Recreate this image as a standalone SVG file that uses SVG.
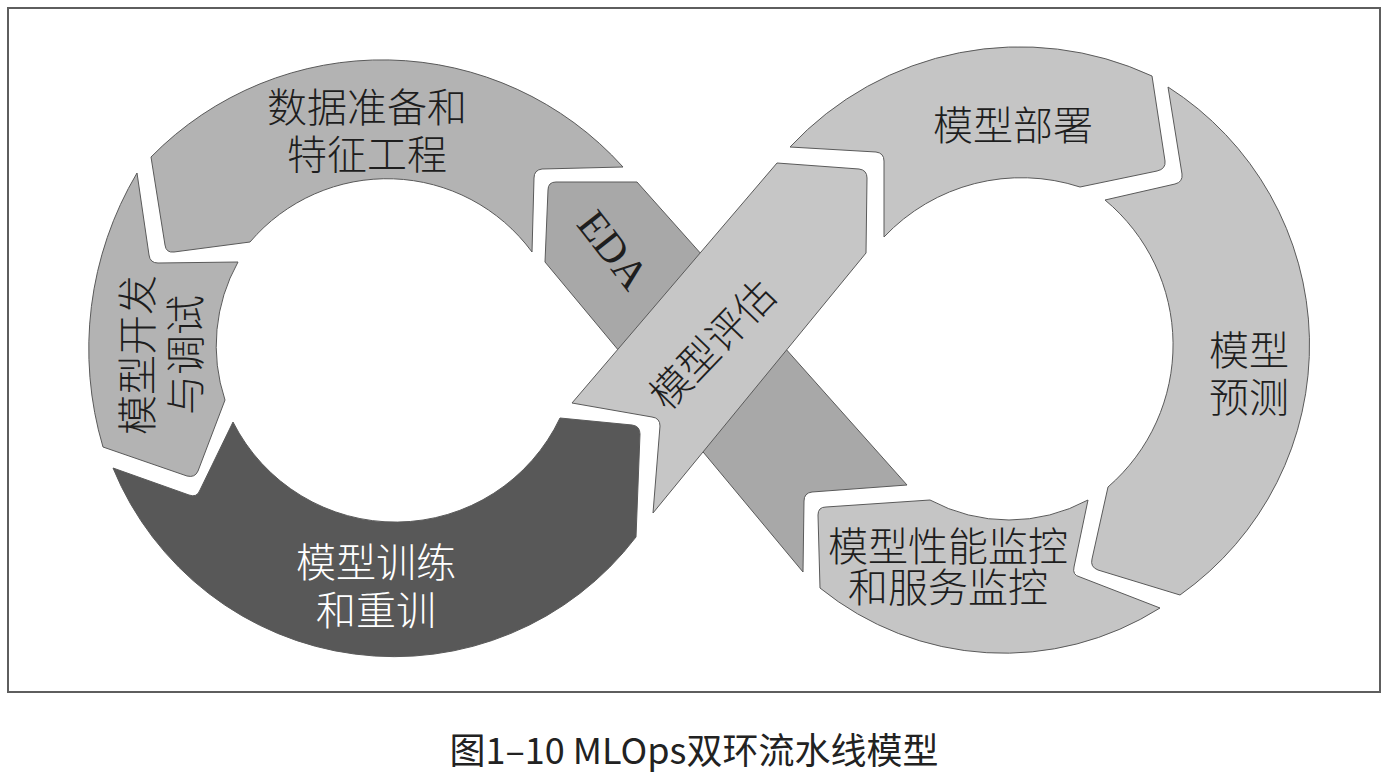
<svg xmlns="http://www.w3.org/2000/svg" width="1392" height="774" viewBox="0 0 1392 774">
<style>
.seg{stroke:#5a5a5a;stroke-width:1;stroke-linejoin:round}
.l{fill:#b3b3b3}
.r{fill:#c5c5c5}
.eda{fill:#a8a8a8}
.rib{fill:#c6c6c6}
.dark{fill:#585858}
.t{font-family:"Noto Sans CJK SC","Noto Sans",sans-serif;font-size:40px;font-weight:300;fill:#1e1e1e;text-anchor:middle}
.w{fill:#ffffff}
.s{font-family:"Liberation Serif",serif;font-size:42px;fill:#1e1e1e;text-anchor:middle}
</style>
<rect x="0" y="0" width="1392" height="774" fill="#ffffff"/>
<rect x="8" y="8" width="1372" height="684" fill="#ffffff" stroke="#5e5e5e" stroke-width="2"/>
<g id="connectors"></g>
<g id="n-data">
<path class="seg l" d="M151,157 A324,324 0 0,1 623,167 L542,169 Q534,170 534,178 L532,252 A180,180 0 0,0 250,242 L174,252 Q166,253 165,245 Z"/>
<text class="t" x="367" y="122">数据准备和<tspan x="367" dy="47">特征工程</tspan></text>
</g>
<g id="n-dev">
<path class="seg l" d="M137,173 A345,345 0 0,0 103,447 L187,476 Q195,478 198,471 L225,400 A172,172 0 0,1 238,262 L158,263 Q150,263 149,255 Z"/>
<text class="t" transform="translate(162,355) rotate(-90)" x="0" y="-10">模型开发<tspan x="0" dy="48">与调试</tspan></text>
</g>
<g id="n-train">
<path class="seg dark" d="M113,468 L189,495 Q197,498 200,490 L233,422 A182,182 0 0,0 560,418 L632,425 Q640,426 640,434 L636,537 A304,304 0 0,1 113,468 Z"/>
<text class="t w" x="376" y="577">模型训练<tspan x="376" dy="48">和重训</tspan></text>
</g>
<g id="n-eda">
<path class="seg eda" d="M545,262 L548,190 Q548,182 556,182 L637,182 L907,485 L812,492 Q804,493 804,501 L803,572 Z"/>
<text class="s" transform="translate(613,250) rotate(52)" x="0" y="14">EDA</text>
</g>
<g id="n-eval">
<path class="seg rib" d="M572,403 L777,163 L859,169 Q867,170 867,178 L866,253 L653,513 L660,426 Q660,418 652,417 Z"/>
<text class="t" transform="translate(713,345) rotate(-46)" x="0" y="14">模型评估</text>
</g>
<g id="n-deploy">
<path class="seg r" d="M790,147 L876,152 Q884,153 884,161 L884,237 A189,189 0 0,1 1080,187 L1157,171 Q1166,169 1165,161 L1152,76 A314,314 0 0,0 790,147 Z"/>
<text class="t" x="1013" y="140">模型部署</text>
</g>
<g id="n-predict">
<path class="seg r" d="M1168,87 A306,306 0 0,1 1180,595 L1098,570 Q1090,567 1092,559 L1108,487 A188,188 0 0,0 1105,200 L1175,184 Q1183,182 1182,174 Z"/>
<text class="t" x="1249" y="365">模型<tspan x="1249" dy="47">预测</tspan></text>
</g>
<g id="n-monitor">
<path class="seg r" d="M818,515 Q818,507 826,507 L930,500 A166,166 0 0,0 1088,500 L1074,567 Q1072,575 1080,577 L1160,608 A292,292 0 0,1 820,588 Z"/>
<text class="t" x="948" y="561">模型性能监控<tspan x="948" dy="41">和服务监控</tspan></text>
</g>
<text x="694" y="764" font-family="'Noto Sans CJK SC','Noto Sans',sans-serif" font-size="36" fill="#222222" text-anchor="middle">图1–10 MLOps双环流水线模型</text>
</svg>
